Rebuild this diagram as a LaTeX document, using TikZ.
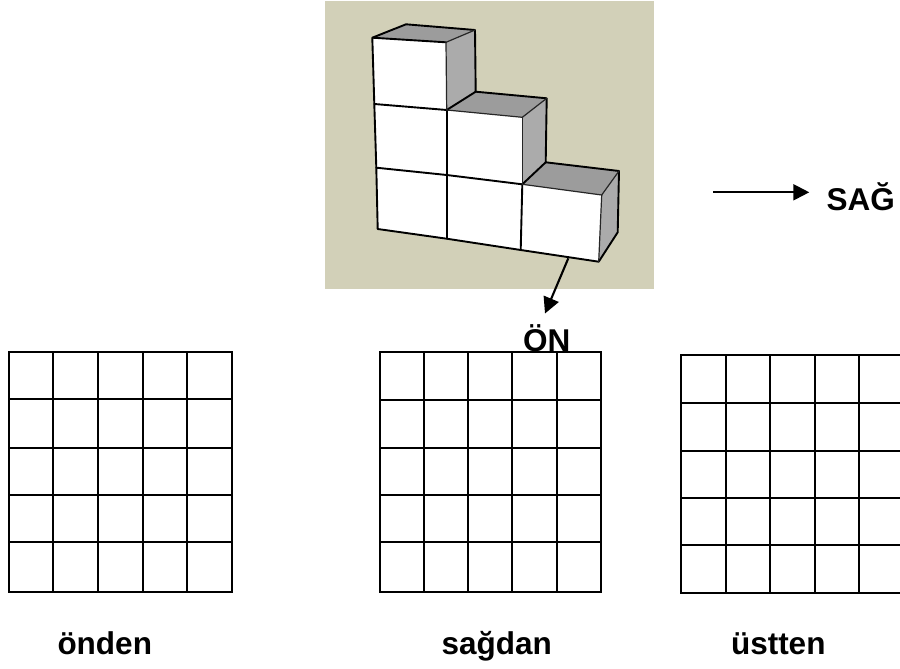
\documentclass[tikz,border=0pt]{standalone}
\usepackage{fontspec}
\setmainfont{Liberation Sans}
\usetikzlibrary{arrows.meta}
\definecolor{bgtan}{HTML}{D2D0B8}
\definecolor{topgrey}{HTML}{9C9C9C}
\definecolor{sidegrey}{HTML}{ABABAB}
\tikzset{
  x=1pt,y=-1pt,
  gridline/.style={line width=2pt,black,line cap=rect},
  cubeline/.style={line width=1.9pt,black,line join=round,line cap=round},
  thinline/.style={line width=1.2pt,black!85,line cap=round},
  label/.style={font=\bfseries\fontsize{31.5}{33}\selectfont,anchor=base west,inner sep=0pt,outer sep=0pt},
  arrowline/.style={line width=2.1pt,black,-{Triangle[length=16pt,width=16pt]},shorten >=0pt},
}
\newcommand{\gridat}[2]{%
  \foreach \vx in {#1} \draw[gridline] (\vx,\gtop) -- (\vx,\gbot);
  \foreach \hy in {#2} \draw[gridline] (\gleft,\hy) -- (\gright,\hy);
}
\begin{document}
\begin{tikzpicture}
\useasboundingbox (0,0) rectangle (900,669);
\clip (0,0) rectangle (900,669);
\fill[white] (0,0) rectangle (900,669);
\fill[bgtan] (325,1) rectangle (654,289);

% named corners of the cube stack
\coordinate (a1) at (372.3,37.7);
\coordinate (a2) at (406,24.3);
\coordinate (a3) at (475,30);
\coordinate (a4) at (446,42.3);
\coordinate (b1) at (374.3,104);
\coordinate (b2) at (446.7,110);
\coordinate (b3) at (475.7,91.7);
\coordinate (b4) at (546.7,98.3);
\coordinate (b5) at (522.3,117.3);
\coordinate (c1) at (376.3,167.7);
\coordinate (c2) at (446.7,175);
\coordinate (c3) at (522.3,184.3);
\coordinate (c4) at (545.7,162.3);
\coordinate (c5) at (619,171);
\coordinate (c6) at (601.7,195);
\coordinate (d1) at (377.7,229);
\coordinate (d2) at (446.7,238.7);
\coordinate (d3) at (520.7,250);
\coordinate (d4) at (598.7,261.7);
\coordinate (d5) at (617.7,232.3);

% faces
\fill[white] (a1) -- (a4) -- (b2) -- (b5) -- (c3) -- (c6) -- (d4) -- (d3) -- (d2) -- (d1) -- (c1) -- (b1) -- cycle;
\fill[topgrey] (a1) -- (a2) -- (a3) -- (a4) -- cycle;
\fill[sidegrey] (a4) -- (a3) -- (b3) -- (b2) -- cycle;
\fill[topgrey] (b2) -- (b3) -- (b4) -- (b5) -- cycle;
\fill[sidegrey] (b5) -- (b4) -- (c4) -- (c3) -- cycle;
\fill[topgrey] (c3) -- (c4) -- (c5) -- (c6) -- cycle;
\fill[sidegrey] (c6) -- (c5) -- (d5) -- (d4) -- cycle;

% edges
\draw[cubeline] (a4) -- (a1) -- (a2) -- (a3) -- (b3) -- (b4) -- (c4) -- (c5) -- (d5) -- (d4) -- (d3) -- (d2) -- (d1) -- (c1) -- (b1) -- (a1);
\draw[cubeline] (b1) -- (b2) -- (b3);
\draw[cubeline] (c1) -- (c2) -- (c3) -- (c4);
\draw[cubeline] (b2) -- (c2) -- (d2);
\draw[cubeline] (c3) -- (d3);
\draw[thinline] (a3) -- (a4) -- (b2);
\draw[thinline] (b2) -- (b5) -- (b4);
\draw[thinline] (b5) -- (c3);
\draw[thinline] (c3) -- (c6) -- (c5);
\draw[thinline] (c6) -- (d4);

% direction arrows
\coordinate (onstart) at (568.3,258.3);
\coordinate (ontip) at (545,313.5);
\coordinate (sagstart) at (713.3,192.3);
\coordinate (sagtip) at (809.3,192.3);
\draw[arrowline] (onstart) -- (ontip);
\draw[arrowline] (sagstart) -- (sagtip);

% labels
\node[label] (sag) at (826.5,210) {SAĞ};
\node[label] (on) at (523,351) {ÖN};
\node[label] (onden) at (57.5,654) {önden};
\node[label] (sagdan) at (441.5,654) {sağdan};
\node[label] (ustten) at (731,654) {üstten};

% answer grids
\def\gleft{9}\def\gright{232}\def\gtop{352}\def\gbot{592}
\gridat{9,53,98,143,187,232}{352,399,448,495,542,592}
\def\gleft{380}\def\gright{601}\def\gtop{352}\def\gbot{592}
\gridat{380,424,468,512,557,601}{352,400,448,495,542,592}
\def\gleft{681}\def\gright{903}\def\gtop{355}\def\gbot{593}
\gridat{681,726,770,815,859}{355,403,451,498,545,593}
\end{tikzpicture}
\end{document}
